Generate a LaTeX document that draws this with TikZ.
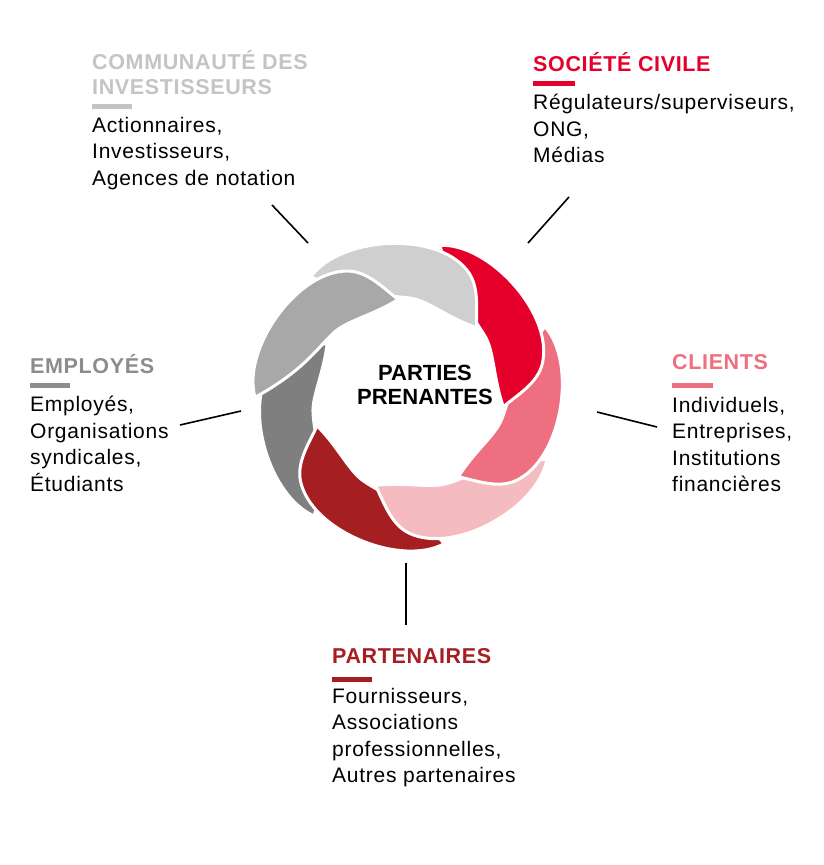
\documentclass[tikz,border=0pt]{standalone}
\usepackage{fontspec}
\setmainfont{Liberation Sans}
\definecolor{cRed}{HTML}{E4002B}
\definecolor{cPink}{HTML}{EE6F7F}
\definecolor{cLPink}{HTML}{F4BCC0}
\definecolor{cDRed}{HTML}{A51E22}
\definecolor{cDGrey}{HTML}{7F7F7F}
\definecolor{cMGrey}{HTML}{A8A8A8}
\definecolor{cLGrey}{HTML}{CFCFCF}
\definecolor{tGrey}{HTML}{C4C4C4}
\definecolor{tMGrey}{HTML}{8C8C8C}
\begin{document}
\begin{tikzpicture}[x=1pt,y=-1pt,
  ttl/.style={anchor=north west,inner sep=0pt,font=\fontsize{21.5}{25}\selectfont\bfseries\addfontfeatures{LetterSpace=3},align=left},
  body/.style={anchor=north west,inner sep=0pt,font=\fontsize{21}{26.5}\selectfont\addfontfeatures{LetterSpace=3.5},align=left},
  bar/.style={line width=5pt},
  conn/.style={line width=1.6pt,black},
  petal/.style={draw=white,line width=3pt,line join=round}]
\useasboundingbox (0,0) rectangle (824,865);
% flower
\begin{scope}[shift={(408,395)},y=1pt]
\foreach \a/\c in {0/cDGrey,51.43/cDRed,102.86/cLPink,154.29/cPink,205.71/cRed,257.14/cLGrey,308.57/cMGrey}{
  \begin{scope}[rotate=\a-205.71]
  \fill[petal,fill=\c] (31.8,149.7) .. controls (80,152) and (142,85) .. (135.2,36.2)
     .. controls (132.7,13.8) and (112,2) .. (95.3,-11.7)
     .. controls (86,15) and (86,40) .. (79,55)
     .. controls (70,74) and (48,92) .. (31.8,149.7) -- cycle;
  \end{scope}}
\end{scope}
\node[font=\fontsize{22}{24}\selectfont\bfseries,align=center,inner sep=0pt] (center) at (425,385) {PARTIES\\PRENANTES};
% texts
\node[ttl,text=tGrey] (t1) at (92,50) {COMMUNAUTÉ DES\\INVESTISSEURS};
\draw[bar,tGrey] (92,106) -- (132,106);
\node[body] (b1) at (92,117) {Actionnaires,\\Investisseurs,\\Agences de notation};
\node[ttl,text=cRed] (t2) at (533,52) {SOCIÉTÉ CIVILE};
\draw[bar,cRed] (533,83) -- (575,83);
\node[body] (b2) at (533,94) {Régulateurs/superviseurs,\\ONG,\\Médias};
\node[ttl,text=tMGrey] (t3) at (30,354) {EMPLOYÉS};
\draw[bar,tMGrey] (30,385) -- (70,385);
\node[body] (b3) at (30,396) {Employés,\\Organisations\\syndicales,\\Étudiants};
\node[ttl,text=cPink] (t4) at (672,354) {CLIENTS};
\draw[bar,cPink] (672,385) -- (713,385);
\node[body] (b4) at (672,397) {Individuels,\\Entreprises,\\Institutions\\financières};
\node[ttl,text=cDRed] (t5) at (332,648) {PARTENAIRES};
\draw[bar,cDRed] (332,679) -- (372,679);
\node[body] (b5) at (332,688) {Fournisseurs,\\Associations\\professionnelles,\\Autres partenaires};
% connectors
\coordinate (c1a) at (308,243); \coordinate (c1b) at (272,205);
\coordinate (c2a) at (528,243); \coordinate (c2b) at (569,197);
\coordinate (c3a) at (241,411); \coordinate (c3b) at (180,425);
\coordinate (c4a) at (597,412); \coordinate (c4b) at (657,427);
\coordinate (c5a) at (406,563); \coordinate (c5b) at (406,625);
\draw[conn] (c1a) -- (c1b);
\draw[conn] (c2a) -- (c2b);
\draw[conn] (c3a) -- (c3b);
\draw[conn] (c4a) -- (c4b);
\draw[conn] (c5a) -- (c5b);
\end{tikzpicture}
\end{document}
